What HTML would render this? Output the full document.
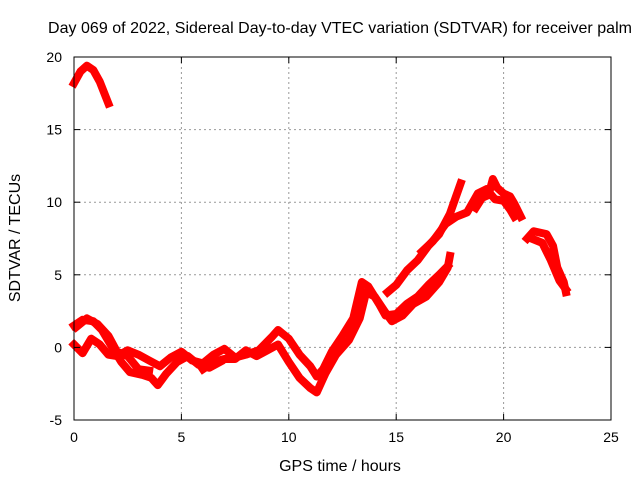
<!DOCTYPE html>
<html><head><meta charset="utf-8"><style>
body{margin:0;background:#fff}
svg{font-family:"Liberation Sans",sans-serif;font-size:14px}
.big{font-size:16px}
</style></head><body>
<svg width="640" height="480">
<g id="grid"></g>
<g id="series"></g>
<rect x="74" y="57" width="537" height="363" fill="none" stroke="#000"/>
<g id="ticks"></g>
<text class="big" x="340" y="33" text-anchor="middle" textLength="584">Day 069 of 2022, Sidereal Day-to-day VTEC variation (SDTVAR) for receiver palm</text>
<text class="big" x="340" y="471" text-anchor="middle">GPS time / hours</text>
<text class="big" transform="translate(20,238) rotate(-90)" text-anchor="middle">SDTVAR / TECUs</text>
</svg>
<script>
const xTicks=[0,5,10,15,20,25];
const yTicks=[-5,0,5,10,15,20];
const traceA=[[0,18.2],[0.3,19],[0.6,19.4],[0.9,19.1],[1.2,18.3],[1.6,16.8]];
const traceB=[[0,1.5],[0.4,1.9],[0.9,1.8],[1.3,1.2],[1.7,0.2],[2.2,-1.0],[2.6,-1.7],[3.2,-1.9],[3.6,-2.1],[3.9,-2.6],[4.3,-1.8],[4.8,-1.0],[5.3,-0.6],[5.8,-1.2],[6.3,-1.4],[6.8,-1.0]];
const traceC=[[0,0.2],[0.4,-0.4],[0.8,0.6],[1.2,0.2],[1.6,-0.5],[2,-0.6],[2.5,-0.2],[3,-0.5],[3.5,-0.9],[4,-1.3],[4.5,-0.7],[5,-0.3],[5.5,-0.9],[6,-1.1],[6.5,-0.5],[7,-0.1],[7.5,-0.7],[8,-0.5],[8.6,-0.2],[9.2,0.7],[9.5,1.2],[10,0.6],[10.5,-0.5],[11,-1.3],[11.3,-2.0],[11.6,-1.5],[12,-0.3],[12.5,0.8],[13,2.0],[13.4,4.5],[13.7,4.2],[14.2,3.0],[14.5,2.2],[15,2.3],[15.5,3.0],[16,3.5],[16.5,4.3],[17,5.0],[17.4,5.6]];
const traceD=[[0.1,1.4],[0.6,2.0],[1.1,1.6],[1.6,0.8],[2.0,-0.3],[2.5,-0.6],[3,-1.5],[3.5,-1.6]];
const traceE=[[6,-1.5],[6.5,-1.0],[7,-0.8],[7.5,-0.8],[8,-0.2],[8.5,-0.6],[9,-0.2],[9.5,0.2],[10,-1.0],[10.5,-2.1],[11,-2.8],[11.3,-3.1],[11.7,-1.8],[12.2,-0.5],[12.8,0.5],[13.3,2.0],[13.6,3.8],[14,3.5],[14.5,2.4],[14.8,1.8],[15.3,2.2],[15.8,3.0],[16.4,3.5],[17,4.5],[17.4,5.5],[17.5,6.3]];
const traceF=[[14.6,3.8],[15,4.3],[15.5,5.3],[16,6.0],[16.5,7.0],[17,7.8],[17.5,9.2],[18,11.3]];
const traceG=[[16.2,6.6],[16.7,7.3],[17.3,8.5],[17.8,9.0],[18.3,9.3],[18.8,10.6],[19.2,10.9],[19.6,10.2],[20,10.1],[20.3,9.5],[20.5,9.0]];
const traceH=[[18.7,9.6],[19,10.3],[19.3,10.5],[19.5,11.6],[19.7,11.0],[20.0,10.6],[20.3,10.4],[20.5,9.9],[20.8,9.0]];
const traceI=[[21.1,7.5],[21.4,8.0],[22,7.8],[22.3,7.0],[22.5,5.5],[22.8,4.5],[22.9,3.8]];
const traceJ=[[21.3,7.5],[21.8,7.2],[22.2,6.0],[22.6,4.6],[22.9,4.0]];
const traces=[traceA,traceB,traceC,traceD,traceE,traceF,traceG,traceH,traceI,traceJ];
const NS="http://www.w3.org/2000/svg";
const X=h=>74+h*(537/25);
const Y=v=>57+(20-v)*(363/25);
function mk(t,a,p){const e=document.createElementNS(NS,t);for(const k in a)e.setAttribute(k,a[k]);p.appendChild(e);return e;}
const grid=document.getElementById('grid'),ticks=document.getElementById('ticks'),ser=document.getElementById('series');
xTicks.forEach(t=>{
 if(t>0&&t<25){const l=mk('line',{x1:X(t),x2:X(t),y1:57,y2:420,stroke:'#999','stroke-dasharray':'2,3'},grid);
 
 }
 mk('line',{x1:X(t),x2:X(t),y1:420,y2:414,stroke:'#000'},ticks);
 mk('line',{x1:X(t),x2:X(t),y1:57,y2:63,stroke:'#000'},ticks);
 const tx=mk('text',{x:X(t),y:442,'text-anchor':'middle'},ticks);tx.textContent=t;
 
 
});
yTicks.forEach(t=>{
 if(t>-5&&t<20){const l=mk('line',{x1:74,x2:611,y1:Y(t),y2:Y(t),stroke:'#999','stroke-dasharray':'2,3'},grid);
 
 }
 mk('line',{x1:74,x2:80,y1:Y(t),y2:Y(t),stroke:'#000'},ticks);
 mk('line',{x1:605,x2:611,y1:Y(t),y2:Y(t),stroke:'#000'},ticks);
 const tx=mk('text',{x:62,y:Y(t)+5,'text-anchor':'end'},ticks);tx.textContent=t;
 
 
});
traces.forEach(tr=>{
 const p=mk('polyline',{points:tr.map(d=>X(d[0])+','+Y(d[1])).join(' '),fill:'none',stroke:'#ff0000','stroke-width':8,'stroke-linejoin':'round','stroke-linecap':'square'},ser);
 
 
});
</script>
</body></html>
